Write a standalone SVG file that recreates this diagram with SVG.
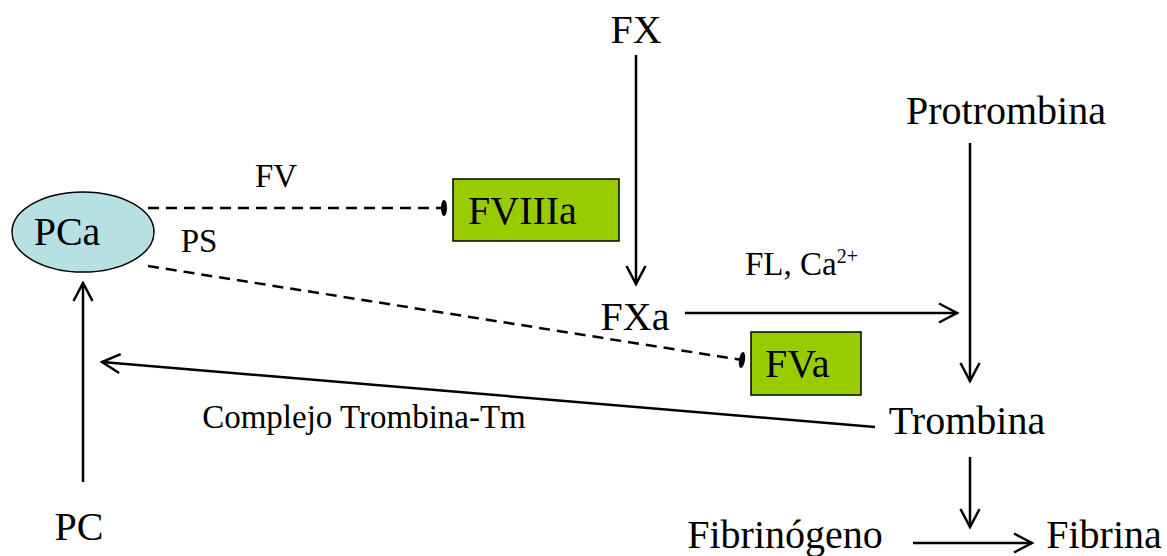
<svg xmlns="http://www.w3.org/2000/svg" width="1167" height="556" viewBox="0 0 1167 556">
<style>
.t{font-family:"Liberation Serif","Times New Roman",serif;font-size:40px;fill:#000}
.s{font-family:"Liberation Serif","Times New Roman",serif;font-size:33px;fill:#000}
.ln{stroke:#000;stroke-width:2.5;fill:none}
.ds{stroke:#000;stroke-width:2.5;fill:none;stroke-dasharray:11 7}
.box{fill:#99cc00;stroke:#000;stroke-width:1.5}
</style>
<defs>
<marker id="arr" markerUnits="userSpaceOnUse" markerWidth="22" markerHeight="22" viewBox="0 0 22 22" refX="19.5" refY="11" orient="auto">
<path d="M1.5,1.5 L19.5,11 L1.5,20.5" fill="none" stroke="#000" stroke-width="2.5"/>
</marker>
<marker id="bar" markerUnits="userSpaceOnUse" markerWidth="8" markerHeight="18" viewBox="0 0 8 18" refX="4" refY="9" orient="auto">
<ellipse cx="4" cy="9" rx="3" ry="8" fill="#000"/>
</marker>
</defs>
<g id="connectors">
<line class="ln" x1="636" y1="55" x2="636" y2="284" marker-end="url(#arr)"/>
<line class="ln" x1="685" y1="313" x2="957" y2="313" marker-end="url(#arr)"/>
<line class="ln" x1="970" y1="143" x2="970" y2="381" marker-end="url(#arr)"/>
<line class="ln" x1="970" y1="457" x2="970" y2="527" marker-end="url(#arr)"/>
<line class="ln" x1="913" y1="543" x2="1032" y2="543" marker-end="url(#arr)"/>
<line class="ln" x1="875" y1="427" x2="102" y2="362" marker-end="url(#arr)"/>
<line class="ln" x1="83" y1="482" x2="83" y2="283" marker-end="url(#arr)"/>
<line class="ds" x1="148" y1="208" x2="444" y2="208" marker-end="url(#bar)"/>
<line class="ds" x1="148" y1="266" x2="742" y2="360" marker-end="url(#bar)"/>
</g>
<g id="PCa">
<ellipse cx="83" cy="232" rx="71" ry="40" fill="#b7e0e3" stroke="#000" stroke-width="1.5"/>
<text class="t" x="67" y="245" text-anchor="middle">PCa</text>
</g>
<g id="FVIIIa">
<rect class="box" x="453" y="179" width="166" height="62"/>
<text class="t" x="468" y="224">FVIIIa</text>
</g>
<g id="FVa">
<rect class="box" x="751" y="332" width="110" height="63"/>
<text class="t" x="765" y="377">FVa</text>
</g>
<g id="FX"><text class="t" x="636" y="43" text-anchor="middle">FX</text></g>
<g id="FXa"><text class="t" x="635" y="330" text-anchor="middle">FXa</text></g>
<g id="Protrombina"><text class="t" x="1006" y="124" text-anchor="middle">Protrombina</text></g>
<g id="Trombina"><text class="t" x="967" y="434" text-anchor="middle">Trombina</text></g>
<g id="Fibrinogeno"><text class="t" x="785" y="548" text-anchor="middle">Fibrinógeno</text></g>
<g id="Fibrina"><text class="t" x="1104" y="548" text-anchor="middle">Fibrina</text></g>
<g id="PC"><text class="t" x="79" y="540" text-anchor="middle">PC</text></g>
<g id="labels">
<text class="s" x="276" y="187" text-anchor="middle">FV</text>
<text class="s" x="199" y="252" text-anchor="middle">PS</text>
<text class="s" x="745" y="275">FL, Ca<tspan font-size="20" dy="-12">2+</tspan></text>
<text class="s" x="364" y="428" text-anchor="middle">Complejo Trombina-Tm</text>
</g>
</svg>
